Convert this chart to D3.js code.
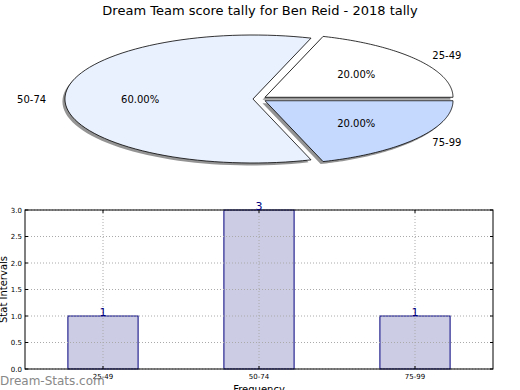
<!DOCTYPE html>
<html><head><meta charset="utf-8">
<script src="https://cdn.jsdelivr.net/npm/d3@7"></script>
<style>body{margin:0;background:#fff}svg{display:block}text{font-family:"DejaVu Sans",sans-serif}</style>
</head><body>
<svg id="c" width="520" height="390"></svg>
<script>
const title = "Dream Team score tally for Ben Reid - 2018 tally";
const categories = ["25-49", "50-74", "75-99"];
const counts = [1, 3, 1];
const sliceColors = ["#ffffff", "#eaf1fe", "#c5d9fe"];
const explode = [0.046, 0.027, 0.046];
const yTicks = [0.0, 0.5, 1.0, 1.5, 2.0, 2.5, 3.0];

const svg = d3.select("#c");
svg.append("text").attr("x", 260).attr("y", 15).attr("text-anchor", "middle")
  .attr("font-size", 13).text(title);

// ---- Pie (elliptical) ----
const cx = 258, cy = 99, rx = 188, ry = 64;
const total = d3.sum(counts);
const ang = d3.scaleLinear().domain([0, total]).range([0, 2 * Math.PI]);
let acc = 0;
const slices = counts.map((v, i) => {
  const a0 = ang(acc); acc += v; const a1 = ang(acc);
  return { i, a0, a1, mid: (a0 + a1) / 2, v };
});
function slicePath(s, ox, oy) {
  const mx = cx + ox, my = cy + oy;
  const n = 80; const pts = [[mx, my]];
  for (let k = 0; k <= n; k++) {
    const a = s.a0 + (s.a1 - s.a0) * k / n;
    pts.push([mx + rx * Math.cos(a), my - ry * Math.sin(a)]);
  }
  return d3.line()(pts) + "Z";
}
const pie = svg.append("g");
slices.forEach(s => {
  const ox = explode[s.i] * rx * Math.cos(s.mid), oy = -explode[s.i] * ry * Math.sin(s.mid);
  pie.append("path").attr("d", slicePath(s, ox - 2.5, oy + 2.5))
    .attr("fill", "#000").attr("fill-opacity", 0.42).attr("stroke", "none");
});
slices.forEach(s => {
  const ox = explode[s.i] * rx * Math.cos(s.mid), oy = -explode[s.i] * ry * Math.sin(s.mid);
  pie.append("path").attr("d", slicePath(s, ox, oy))
    .attr("fill", sliceColors[s.i]).attr("stroke", "#000").attr("stroke-width", 0.8)
    .attr("stroke-linejoin", "miter");
  const ex = cx + ox, ey = cy + oy;
  pie.append("text")
    .attr("x", ex + 1.1 * rx * Math.cos(s.mid)).attr("y", ey - 1.1 * ry * Math.sin(s.mid) + 3.5)
    .attr("text-anchor", Math.cos(s.mid) < 0 ? "end" : "start")
    .attr("font-size", 10).text(categories[s.i]);
  pie.append("text")
    .attr("x", ex + 0.6 * rx * Math.cos(s.mid)).attr("y", ey - 0.6 * ry * Math.sin(s.mid) + 3.5)
    .attr("text-anchor", "middle").attr("font-size", 10)
    .text((s.v / total * 100).toFixed(2) + "%");
});

// ---- Bar chart ----
const L = 25, R = 493, T = 210, B = 369;
const x = d3.scaleLinear().domain([-0.5, 2.5]).range([L, R]);
const y = d3.scaleLinear().domain([0, 3]).range([B, T]);
const g = svg.append("g");
const bw = 0.45;
g.selectAll("rect.bar").data(counts).enter().append("rect")
  .attr("x", (d, i) => x(i - bw / 2)).attr("width", x(bw) - x(0))
  .attr("y", d => y(d)).attr("height", d => y(0) - y(d))
  .attr("fill", "#ccccE5").attr("stroke", "#00007f").attr("stroke-width", 1);
yTicks.forEach(t => {
  g.append("line").attr("x1", L).attr("x2", R).attr("y1", y(t)).attr("y2", y(t))
    .attr("stroke", "#aaa").attr("stroke-width", 1).attr("stroke-dasharray", "1,2");
});
categories.forEach((c, i) => {
  g.append("line").attr("x1", x(i)).attr("x2", x(i)).attr("y1", T).attr("y2", B)
    .attr("stroke", "#aaa").attr("stroke-width", 1).attr("stroke-dasharray", "1,2");
});
g.append("rect").attr("x", L).attr("y", T).attr("width", R - L).attr("height", B - T)
  .attr("fill", "none").attr("stroke", "#000").attr("stroke-width", 1);
yTicks.forEach(t => {
  g.append("line").attr("x1", L).attr("x2", L + 3).attr("y1", y(t)).attr("y2", y(t)).attr("stroke", "#000");
  g.append("line").attr("x1", R - 3).attr("x2", R).attr("y1", y(t)).attr("y2", y(t)).attr("stroke", "#000");
  g.append("text").attr("x", L - 3).attr("y", y(t) + 2.5).attr("text-anchor", "end")
    .attr("font-size", 7).text(t.toFixed(1));
});
categories.forEach((c, i) => {
  g.append("line").attr("x1", x(i)).attr("x2", x(i)).attr("y1", B).attr("y2", B - 3).attr("stroke", "#000");
  g.append("line").attr("x1", x(i)).attr("x2", x(i)).attr("y1", T).attr("y2", T + 3).attr("stroke", "#000");
  g.append("text").attr("x", x(i)).attr("y", B + 10).attr("text-anchor", "middle")
    .attr("font-size", 7).text(c);
});
counts.forEach((d, i) => {
  g.append("text").attr("x", x(i)).attr("y", y(d) - 0.5).attr("text-anchor", "middle")
    .attr("font-size", 11).attr("fill", "#00007f").text(d);
});
g.append("text").attr("x", x(1)).attr("y", 393).attr("text-anchor", "middle")
  .attr("font-size", 10).text("Frequency");
g.append("text").attr("transform", `translate(7,${(T + B) / 2}) rotate(-90)`)
  .attr("text-anchor", "middle").attr("font-size", 10).text("Stat Intervals");
svg.append("text").attr("x", 0).attr("y", 385).attr("font-size", 12)
  .attr("fill", "#888").attr("font-family", "DejaVu Sans").text("Dream-Stats.com");
</script>
</body></html>
